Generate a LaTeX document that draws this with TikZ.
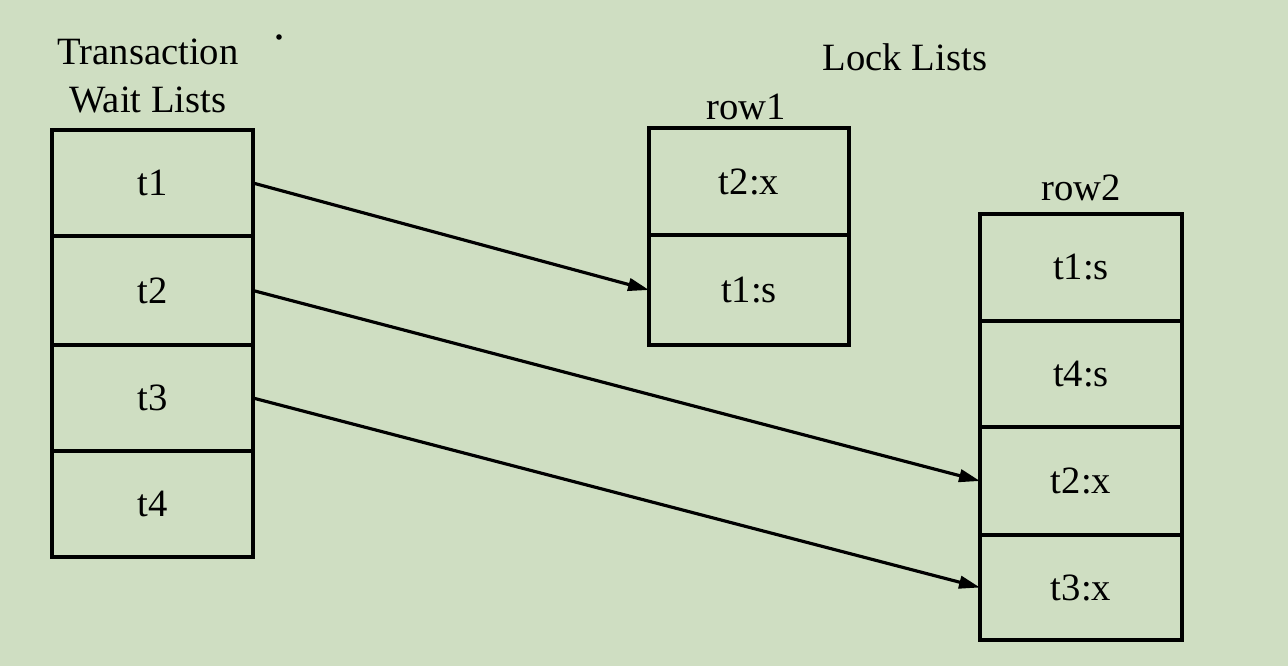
\documentclass[tikz,border=0pt]{standalone}
\usepackage{fontspec}
\setmainfont{Liberation Serif}
\usetikzlibrary{arrows.meta}
\definecolor{bg}{RGB}{207,222,194}
\tikzset{
  cell/.style={draw=black, line width=2pt, inner sep=0pt, outer sep=0pt, font=\fontsize{22}{26}\selectfont},
  lcell/.style={cell, minimum width=4.02cm},
  rcell/.style={cell, minimum width=4.0cm},
  r2cell/.style={cell, minimum width=4.04cm},
  lbl/.style={inner sep=0pt, font=\fontsize{22}{26}\selectfont, align=center},
  link/.style={line width=1.8pt, -{Triangle[length=0.42cm,width=0.25cm]}}
}
\begin{document}
\begin{tikzpicture}[x=0.02cm,y=-0.02cm]
\path[fill=bg] (0,0) rectangle (1288,666);
% left column
\node[lcell, minimum height=2.12cm] (t1) at (152.5,183) {t1};
\node[lcell, minimum height=2.18cm] (t2) at (152.5,290.5) {t2};
\node[lcell, minimum height=2.12cm] (t3) at (152.5,398) {t3};
\node[lcell, minimum height=2.12cm] (t4) at (152.5,504) {t4};
\node[lbl] (twl) at (148,76) {Transaction\\[1.5pt]Wait Lists};
\fill (279,37) circle (2.8);
% row1
\node[lbl] (lock) at (905,57) {Lock Lists};
\node[lbl] (row1) at (746,107) {row1};
\node[rcell, minimum height=2.14cm] (r1a) at (749,181.5) {t2:x};
\node[rcell, minimum height=2.2cm] (r1b) at (749,290) {t1:s};
% row2
\node[lbl] (row2) at (1081,188) {row2};
\node[r2cell, minimum height=2.14cm] (r2a) at (1081,267.5) {t1:s};
\node[r2cell, minimum height=2.12cm] (r2b) at (1081,374) {t4:s};
\node[r2cell, minimum height=2.16cm] (r2c) at (1081,481) {t2:x};
\node[r2cell, minimum height=2.1cm] (r2d) at (1081,587.5) {t3:x};
% links
\draw[link] (t1.east) -- (r1b.west);
\draw[link] (t2.east) -- (r2c.west);
\draw[link] (t3.east) -- (r2d.west);
\end{tikzpicture}
\end{document}
